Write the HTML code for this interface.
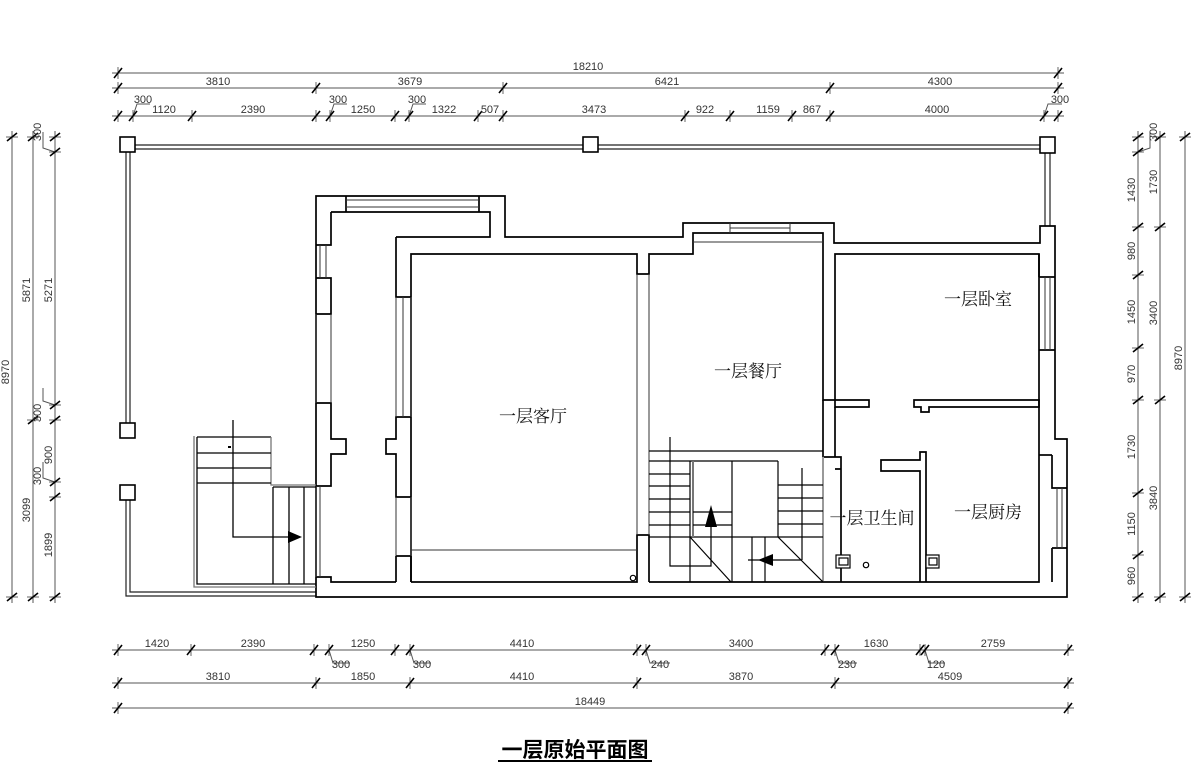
<!DOCTYPE html>
<html><head><meta charset="utf-8"><style>
html,body{margin:0;padding:0;background:#fff}
svg{display:block}
.d{font-family:"Liberation Sans",sans-serif;font-size:11px;fill:#333}
.r{font-family:"Liberation Serif","Noto Serif CJK SC",serif;font-size:17px;fill:#111}
</style></head><body>
<svg width="1200" height="767" viewBox="0 0 1200 767" xmlns="http://www.w3.org/2000/svg">
<defs>
<g id="t"><line x1="-4" y1="5" x2="4" y2="-5" stroke="#000" stroke-width="1.6"/><line x1="0" y1="-6" x2="0" y2="6" stroke="#000" stroke-width="0.6"/></g>
<g id="v"><line x1="-5" y1="4" x2="5" y2="-4" stroke="#000" stroke-width="1.6"/><line x1="-6" y1="0" x2="6" y2="0" stroke="#000" stroke-width="0.6"/></g>
</defs>

<g stroke="#555" stroke-width="1" fill="none">
<line x1="112" y1="73" x2="1064" y2="73"/>
<line x1="112" y1="88" x2="1064" y2="88"/>
<line x1="112" y1="116" x2="1064" y2="116"/>
<line x1="112" y1="650" x2="1074" y2="650"/>
<line x1="112" y1="683" x2="1074" y2="683"/>
<line x1="112" y1="708" x2="1074" y2="708"/>
<line x1="12" y1="131" x2="12" y2="603"/>
<line x1="33" y1="131" x2="33" y2="603"/>
<line x1="55" y1="131" x2="55" y2="603"/>
<line x1="1138" y1="131" x2="1138" y2="603"/>
<line x1="1160" y1="131" x2="1160" y2="603"/>
<line x1="1185" y1="131" x2="1185" y2="603"/>
<polyline points="133,116 137,104 150,104"/>
<polyline points="330,116 334,104 347,104"/>
<polyline points="409,116 413,104 426,104"/>
<polyline points="1044,116 1048,104 1062,104"/>
<polyline points="329,650 333,663 350,663"/>
<polyline points="410,650 414,663 431,663"/>
<polyline points="646,650 650,663 670,663"/>
<polyline points="835,650 839,663 857,663"/>
<polyline points="925,650 929,663 945,663"/>
<polyline points="55,152 43,148 43,132"/>
<polyline points="55,405 43,401 43,388"/>
<polyline points="55,482 43,478 43,462"/>
<polyline points="1138,152 1150,148 1150,132"/>
</g>
<g>
<use href="#t" x="118" y="73"/><use href="#t" x="1058" y="73"/>
<use href="#t" x="118" y="88"/><use href="#t" x="316" y="88"/><use href="#t" x="503" y="88"/><use href="#t" x="830" y="88"/><use href="#t" x="1058" y="88"/>
<use href="#t" x="118" y="116"/><use href="#t" x="133" y="116"/><use href="#t" x="192" y="116"/><use href="#t" x="316" y="116"/><use href="#t" x="330" y="116"/><use href="#t" x="395" y="116"/><use href="#t" x="409" y="116"/><use href="#t" x="478" y="116"/><use href="#t" x="503" y="116"/><use href="#t" x="685" y="116"/><use href="#t" x="730" y="116"/><use href="#t" x="792" y="116"/><use href="#t" x="830" y="116"/><use href="#t" x="1044" y="116"/><use href="#t" x="1058" y="116"/>
<use href="#t" x="118" y="650"/><use href="#t" x="191" y="650"/><use href="#t" x="314" y="650"/><use href="#t" x="329" y="650"/><use href="#t" x="395" y="650"/><use href="#t" x="410" y="650"/><use href="#t" x="637" y="650"/><use href="#t" x="646" y="650"/><use href="#t" x="825" y="650"/><use href="#t" x="835" y="650"/><use href="#t" x="920" y="650"/><use href="#t" x="925" y="650"/><use href="#t" x="1068" y="650"/>
<use href="#t" x="118" y="683"/><use href="#t" x="316" y="683"/><use href="#t" x="410" y="683"/><use href="#t" x="637" y="683"/><use href="#t" x="835" y="683"/><use href="#t" x="1068" y="683"/>
<use href="#t" x="118" y="708"/><use href="#t" x="1068" y="708"/>
<use href="#v" x="12" y="137"/><use href="#v" x="12" y="597"/>
<use href="#v" x="33" y="137"/><use href="#v" x="33" y="420"/><use href="#v" x="33" y="597"/>
<use href="#v" x="55" y="137"/><use href="#v" x="55" y="152"/><use href="#v" x="55" y="405"/><use href="#v" x="55" y="420"/><use href="#v" x="55" y="482"/><use href="#v" x="55" y="497"/><use href="#v" x="55" y="597"/>
<use href="#v" x="1138" y="137"/><use href="#v" x="1138" y="152"/><use href="#v" x="1138" y="227"/><use href="#v" x="1138" y="275"/><use href="#v" x="1138" y="348"/><use href="#v" x="1138" y="400"/><use href="#v" x="1138" y="493"/><use href="#v" x="1138" y="555"/><use href="#v" x="1138" y="597"/>
<use href="#v" x="1160" y="137"/><use href="#v" x="1160" y="227"/><use href="#v" x="1160" y="400"/><use href="#v" x="1160" y="597"/>
<use href="#v" x="1185" y="137"/><use href="#v" x="1185" y="597"/>
</g>
<g class="d" text-anchor="middle">
<text x="588" y="70">18210</text>
<text x="218" y="85">3810</text><text x="410" y="85">3679</text><text x="667" y="85">6421</text><text x="940" y="85">4300</text>
<text x="143" y="103">300</text><text x="164" y="113">1120</text><text x="253" y="113">2390</text><text x="338" y="103">300</text><text x="363" y="113">1250</text><text x="417" y="103">300</text><text x="444" y="113">1322</text><text x="490" y="113">507</text><text x="594" y="113">3473</text><text x="705" y="113">922</text><text x="768" y="113">1159</text><text x="812" y="113">867</text><text x="937" y="113">4000</text><text x="1060" y="103">300</text>
<text x="157" y="647">1420</text><text x="253" y="647">2390</text><text x="363" y="647">1250</text><text x="522" y="647">4410</text><text x="741" y="647">3400</text><text x="876" y="647">1630</text><text x="993" y="647">2759</text>
<text x="341" y="668">300</text><text x="422" y="668">300</text><text x="660" y="668">240</text><text x="847" y="668">230</text><text x="936" y="668">120</text>
<text x="218" y="680">3810</text><text x="363" y="680">1850</text><text x="522" y="680">4410</text><text x="741" y="680">3870</text><text x="950" y="680">4509</text>
<text x="590" y="705">18449</text>
<text transform="translate(9,372) rotate(-90)">8970</text>
<text transform="translate(30,290) rotate(-90)">5871</text>
<text transform="translate(30,510) rotate(-90)">3099</text>
<text transform="translate(52,290) rotate(-90)">5271</text>
<text transform="translate(52,455) rotate(-90)">900</text>
<text transform="translate(52,545) rotate(-90)">1899</text>
<text transform="translate(41,132) rotate(-90)">300</text>
<text transform="translate(41,413) rotate(-90)">300</text>
<text transform="translate(41,476) rotate(-90)">300</text>
<text transform="translate(1135,190) rotate(-90)">1430</text>
<text transform="translate(1135,251) rotate(-90)">980</text>
<text transform="translate(1135,312) rotate(-90)">1450</text>
<text transform="translate(1135,374) rotate(-90)">970</text>
<text transform="translate(1135,447) rotate(-90)">1730</text>
<text transform="translate(1135,524) rotate(-90)">1150</text>
<text transform="translate(1135,576) rotate(-90)">960</text>
<text transform="translate(1157,132) rotate(-90)">300</text>
<text transform="translate(1157,182) rotate(-90)">1730</text>
<text transform="translate(1157,313) rotate(-90)">3400</text>
<text transform="translate(1157,498) rotate(-90)">3840</text>
<text transform="translate(1182,358) rotate(-90)">8970</text>
</g>

<g stroke="#222" stroke-width="1.2" fill="none">
<line x1="134" y1="145" x2="583" y2="145"/><line x1="134" y1="149" x2="583" y2="149"/>
<line x1="597" y1="145" x2="1040" y2="145"/><line x1="597" y1="149" x2="1040" y2="149"/>
<line x1="126" y1="151" x2="126" y2="423"/><line x1="130" y1="151" x2="130" y2="423"/>
<line x1="1045" y1="153" x2="1045" y2="226"/><line x1="1050" y1="153" x2="1050" y2="226"/>
<polyline points="126,500 126,596 316,596"/><polyline points="130,500 130,592 316,592"/>
</g>
<g stroke="#000" stroke-width="1.6" fill="#fff">
<rect x="120" y="137" width="15" height="15"/><rect x="583" y="137" width="15" height="15"/><rect x="1040" y="137" width="15" height="16"/>
<rect x="120" y="423" width="15" height="15"/><rect x="120" y="485" width="15" height="15"/>
</g>

<g stroke="#000" stroke-width="1.7" fill="none" stroke-linejoin="miter">
<path d="M316,196 H505 V237 H683 V223 H834 V243 H1040 V226 H1055 V439 H1067 V597 H316 Z"/>
<path d="M346,196 V212 M479,196 V212 M331,212 H490 V237 H396"/>
<path d="M331,212 V245 H316 M316,278 H331 V314 H316 M316,403 H331 V439 H346 V454 H331 V486 H316"/>
<path d="M316,577 H331 V582 H396"/>
<path d="M396,237 V297 H411 M411,417 H396 V439 H386 V454 H396 V497 H411 M396,556 H411 M396,582 V556 M411,582 V556"/>
<path d="M411,582 V254 H637 V274 H649 V254 H693 V233 H823 V400 H869 V407 H835 V254 H1039 V277"/>
<path d="M411,582 H637 V535 H649 V582"/>
<path d="M914,400 H1039 V407 H929 V412 H921 V407 H914 Z"/>
<path d="M1039,254 V582 H649 M1039,277 H1055 M1039,350 H1055 M1052,455 V488 H1067 M1052,548 H1067 M1052,548 V582"/>
<path d="M1039,455 H1052"/>
<path d="M824,457 H841 V469 H835 M841,469 V582"/>
<path d="M920,582 V471 H881 V460 H920 V452 H926 V582"/>
<path d="M823,400 V457 M835,407 V457"/>
</g>
<g stroke="#333" stroke-width="1" fill="none">
<line x1="346" y1="200" x2="479" y2="200"/><line x1="346" y1="207" x2="479" y2="207"/>
<line x1="320" y1="245" x2="320" y2="278"/><line x1="326" y1="245" x2="326" y2="278"/>
<line x1="316" y1="314" x2="316" y2="403"/><line x1="331" y1="314" x2="331" y2="403"/>
<line x1="403" y1="297" x2="403" y2="417"/><line x1="396" y1="297" x2="396" y2="417"/><line x1="411" y1="297" x2="411" y2="417"/>
<line x1="396" y1="497" x2="396" y2="556"/><line x1="411" y1="497" x2="411" y2="556"/>
<line x1="320" y1="486" x2="320" y2="577"/><line x1="316" y1="486" x2="316" y2="577"/>
<line x1="411" y1="550" x2="637" y2="550"/>
<line x1="637" y1="274" x2="637" y2="535"/><line x1="649" y1="274" x2="649" y2="535"/>
<line x1="693" y1="242" x2="823" y2="242"/>
<line x1="730" y1="223" x2="730" y2="233"/><line x1="790" y1="223" x2="790" y2="233"/><line x1="730" y1="228" x2="790" y2="228"/>
<line x1="1045" y1="277" x2="1045" y2="350"/><line x1="1050" y1="277" x2="1050" y2="350"/>
<line x1="1057" y1="488" x2="1057" y2="548"/><line x1="1062" y1="488" x2="1062" y2="548"/>
<line x1="823" y1="457" x2="823" y2="582"/>
</g>

<g stroke="#000" stroke-width="1.3" fill="none">
<polyline points="194,436 194,587 316,587" stroke="#777"/>
<polyline points="197,437 197,584 316,584"/>
<line x1="197" y1="437" x2="271" y2="437"/>
<polyline points="271,437 271,485 316,485" stroke="#777"/>
<line x1="273" y1="487" x2="316" y2="487"/>
<line x1="197" y1="453" x2="271" y2="453"/><line x1="197" y1="468" x2="271" y2="468"/><line x1="197" y1="483" x2="271" y2="483"/>
<line x1="273" y1="487" x2="273" y2="584"/><line x1="289" y1="487" x2="289" y2="584"/><line x1="304" y1="487" x2="304" y2="584"/>
<polyline points="233,420 233,537 290,537"/>
</g>
<polygon points="288,531 302,537 288,543" fill="#000"/>
<rect x="228" y="446" width="3" height="2" fill="#000"/>

<g stroke="#000" stroke-width="1.2" fill="none">
<line x1="649" y1="451" x2="823" y2="451"/>
<line x1="649" y1="461" x2="778" y2="461"/>
<line x1="649" y1="474" x2="690" y2="474"/><line x1="649" y1="486" x2="690" y2="486"/><line x1="649" y1="499" x2="690" y2="499"/><line x1="649" y1="512" x2="690" y2="512"/><line x1="649" y1="525" x2="690" y2="525"/>
<line x1="649" y1="537" x2="823" y2="537"/>
<line x1="690" y1="461" x2="690" y2="582"/><line x1="693" y1="461" x2="693" y2="537" stroke="#777" stroke-width="2"/>
<line x1="732" y1="461" x2="732" y2="582"/>
<line x1="693" y1="512" x2="732" y2="512"/><line x1="693" y1="525" x2="732" y2="525"/>
<line x1="778" y1="461" x2="778" y2="537"/>
<line x1="778" y1="485" x2="823" y2="485"/><line x1="778" y1="498" x2="823" y2="498"/><line x1="778" y1="511" x2="823" y2="511"/><line x1="778" y1="524" x2="823" y2="524"/>
<polyline points="670,437 670,566 711,566 711,520"/>
<line x1="802" y1="468" x2="802" y2="560"/><line x1="802" y1="560" x2="748" y2="560"/>
<line x1="690" y1="537" x2="731" y2="582"/><line x1="778" y1="537" x2="823" y2="582"/>
<line x1="752" y1="537" x2="752" y2="582"/><line x1="765" y1="537" x2="765" y2="582"/>
</g>
<polygon points="711,505 705,527 717,527" fill="#000"/>
<polygon points="758,560 773,554 773,566" fill="#000"/>

<g stroke="#000" stroke-width="1.2" fill="#fff">
<rect x="836" y="555" width="14" height="13"/><rect x="839" y="558" width="9" height="7"/>
<rect x="926" y="555" width="13" height="13"/><rect x="929" y="558" width="8" height="7"/>
<circle cx="866" cy="565" r="2.7"/><circle cx="633" cy="578" r="2.7"/>
</g>

<g class="r" text-anchor="middle">
<text x="533" y="422">一层客厅</text>
<text x="748" y="377">一层餐厅</text>
<text x="978" y="305">一层卧室</text>
<text x="872" y="524">一层卫生间</text>
<text x="988" y="518">一层厨房</text>
</g>
<text x="575" y="757" text-anchor="middle" font-family="'Liberation Sans','Noto Sans CJK SC',sans-serif" font-size="21" font-weight="bold" fill="#000">一层原始平面图</text>
<line x1="498" y1="761" x2="652" y2="761" stroke="#000" stroke-width="2"/>
</svg>
</body></html>
